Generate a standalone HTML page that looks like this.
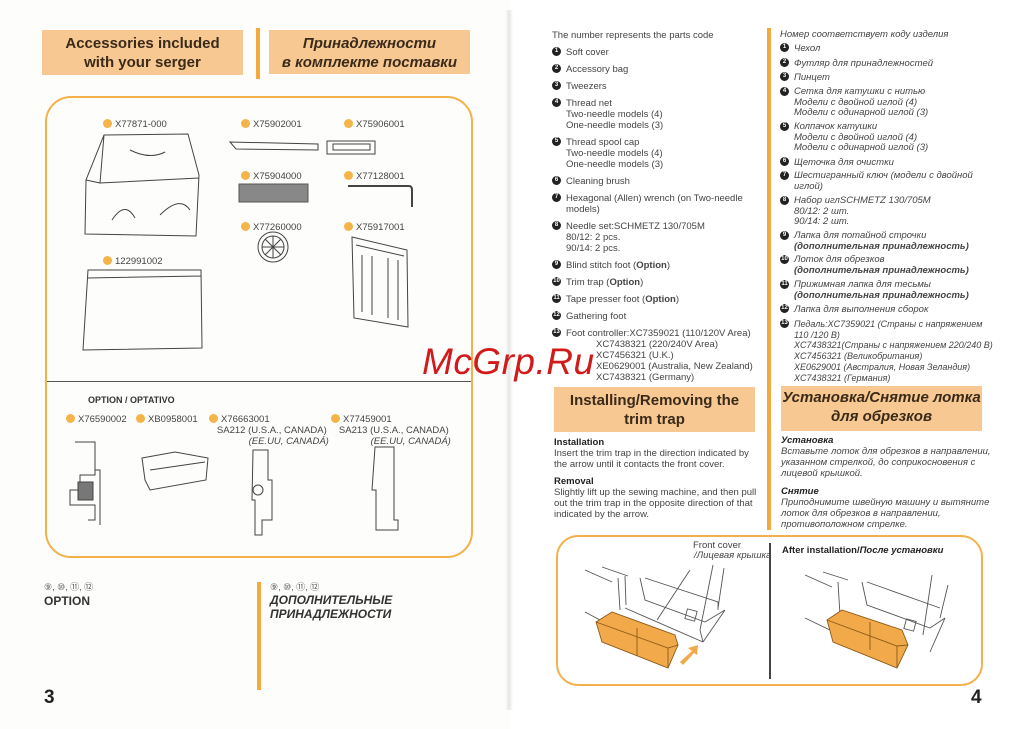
<!DOCTYPE html>
<html><head><meta charset="utf-8">
<style>
*{margin:0;padding:0;box-sizing:border-box}
body{width:1032px;height:729px;position:relative;background:#fff;font-family:"Liberation Sans",sans-serif;color:#333;overflow:hidden}
.a{position:absolute;white-space:nowrap}
.hb{position:absolute;background:#f7c892;text-align:center;font-weight:bold;color:#3a2a1a}
.t{position:absolute;font-size:9.5px;line-height:11px;white-space:nowrap;color:#444}
.ru{font-style:italic}
.b{position:absolute;width:9px;height:9px;border-radius:50%;background:#222;color:#fff;font-size:6px;line-height:9px;text-align:center;font-weight:bold}
.d{display:inline-block;width:9px;height:9px;border-radius:50%;background:#f5b44a;vertical-align:-1px;margin-right:3px}
.lab{position:absolute;font-size:9.5px;line-height:11px;color:#444;white-space:nowrap}
.vb{position:absolute;background:#f4a93c;width:4px}
</style></head><body>
<div class="a" style="left:0;top:0;width:510px;height:729px;background:#fdfdfc"></div>
<div class="a" style="left:505px;top:10px;width:8px;height:700px;background:linear-gradient(90deg,#fff,#e6e6e6,#fff)"></div>

<!-- LEFT PAGE -->
<div class="hb" style="left:42px;top:30px;width:201px;height:45px;font-size:15px;line-height:19px;padding-top:4px">Accessories included<br>with your serger</div>
<div class="vb" style="left:256px;top:28px;height:51px"></div>
<div class="hb" style="left:269px;top:30px;width:201px;height:44px;font-size:15px;line-height:19px;padding-top:4px;font-style:italic">Принадлежности<br>в комплекте поставки</div>

<div class="a" style="left:45px;top:96px;width:428px;height:462px;border:2.5px solid #f4b04a;border-radius:26px"></div>
<div class="a" style="left:47px;top:381px;width:424px;height:1px;background:#555"></div>

<div class="lab" style="left:103px;top:119px"><span class="d"></span>X77871-000</div>
<div class="lab" style="left:241px;top:119px"><span class="d"></span>X75902001</div>
<div class="lab" style="left:344px;top:119px"><span class="d"></span>X75906001</div>
<div class="lab" style="left:241px;top:171px"><span class="d"></span>X75904000</div>
<div class="lab" style="left:344px;top:171px"><span class="d"></span>X77128001</div>
<div class="lab" style="left:241px;top:222px"><span class="d"></span>X77260000</div>
<div class="lab" style="left:344px;top:222px"><span class="d"></span>X75917001</div>
<div class="lab" style="left:103px;top:256px"><span class="d"></span>122991002</div>

<svg class="a" style="left:0;top:0" width="510" height="729" fill="none" stroke="#444" stroke-width="1">
 <path d="M104 135 L188 134 L199 175 L196 236 L85 234 L86 180 Z M104 135 L100 183 L86 180 M100 183 L199 178"/>
 <path d="M112 220 Q125 200 135 218 M160 215 Q180 195 190 210 M130 150 Q150 160 165 152"/>
 <path d="M88 270 L201 270 L202 348 L83 350 Z M88 278 L201 276" />
 <path d="M230 142 L318 144 L318 150 L236 149 Z"/>
 <path d="M327 141 L375 141 L375 154 L327 154 Z M333 144 L370 144 L370 150 L333 150 Z"/>
 <rect x="239" y="184" width="69" height="18" fill="#888" stroke="#555"/>
 <path d="M348 186 L409 186 Q412 186 412 190 L412 207" stroke-width="2"/>
 <circle cx="273" cy="247" r="15"/><circle cx="273" cy="247" r="11"/>
 <path d="M262 247 H284 M273 236 V258 M265 239 L281 255 M281 239 L265 255"/>
 <path d="M352 237 L407 250 L408 327 L354 318 Z M356 245 L404 256 M362 255 L362 312 M372 256 L372 315 M388 258 L388 318 M398 260 L398 320"/>
 <path d="M75 442 H95 V475 H80 V490 H70 V505 H95 V520 H88 M95 442 V470 H100 V525"/>
 <rect x="78" y="482" width="15" height="18" fill="#777"/>
 <path d="M142 458 L175 452 L208 458 L206 480 L150 490 L145 480 Z M150 470 L205 462"/>
 <path d="M253 450 H268 V480 H272 V520 H262 V535 H255 V500 H252 Z"/><circle cx="258" cy="490" r="5"/>
 <path d="M375 447 H394 V520 H398 V530 H376 V490 H372 Z"/>
</svg>

<div class="a" style="left:88px;top:395px;font-size:9px;font-weight:bold;color:#333">OPTION / OPTATIVO</div>
<div class="lab" style="left:66px;top:414px"><span class="d"></span>X76590002</div>
<div class="lab" style="left:136px;top:414px"><span class="d"></span>XB0958001</div>
<div class="lab" style="left:209px;top:414px"><span class="d"></span>X76663001<br>&nbsp;&nbsp;&nbsp;SA212 (U.S.A., CANADA)<br><i>&nbsp;&nbsp;&nbsp;&nbsp;&nbsp;&nbsp;&nbsp;&nbsp;&nbsp;&nbsp;&nbsp;&nbsp;&nbsp;&nbsp;&nbsp;(EE.UU, CANADÁ)</i></div>
<div class="lab" style="left:331px;top:414px"><span class="d"></span>X77459001<br>&nbsp;&nbsp;&nbsp;SA213 (U.S.A., CANADA)<br><i>&nbsp;&nbsp;&nbsp;&nbsp;&nbsp;&nbsp;&nbsp;&nbsp;&nbsp;&nbsp;&nbsp;&nbsp;&nbsp;&nbsp;&nbsp;(EE.UU, CANADÁ)</i></div>

<div class="a" style="left:44px;top:580px;font-size:9px;color:#555">⑨, ⑩, ⑪, ⑫</div>
<div class="a" style="left:44px;top:594px;font-size:12px;font-weight:bold;color:#333">OPTION</div>
<div class="vb" style="left:257px;top:582px;height:108px"></div>
<div class="a" style="left:270px;top:580px;font-size:9px;color:#555">⑨, ⑩, ⑪, ⑫</div>
<div class="a" style="left:270px;top:593px;font-size:12px;line-height:14px;font-weight:bold;font-style:italic;color:#333">ДОПОЛНИТЕЛЬНЫЕ<br>ПРИНАДЛЕЖНОСТИ</div>
<div class="a" style="left:44px;top:687px;font-size:19px;font-weight:bold;color:#222">3</div>

<!-- RIGHT PAGE EN -->
<div class="t" style="left:552px;top:30px">The number represents the parts code</div>
<div class="b" style="left:552px;top:47px">1</div><div class="t" style="left:566px;top:47px">Soft cover</div>
<div class="b" style="left:552px;top:64px">2</div><div class="t" style="left:566px;top:64px">Accessory bag</div>
<div class="b" style="left:552px;top:81px">3</div><div class="t" style="left:566px;top:81px">Tweezers</div>
<div class="b" style="left:552px;top:98px">4</div><div class="t" style="left:566px;top:98px">Thread net<br>Two-needle models (4)<br>One-needle models (3)</div>
<div class="b" style="left:552px;top:137px">5</div><div class="t" style="left:566px;top:137px">Thread spool cap<br>Two-needle models (4)<br>One-needle models (3)</div>
<div class="b" style="left:552px;top:176px">6</div><div class="t" style="left:566px;top:176px">Cleaning brush</div>
<div class="b" style="left:552px;top:193px">7</div><div class="t" style="left:566px;top:193px">Hexagonal (Allen) wrench (on Two-needle<br>models)</div>
<div class="b" style="left:552px;top:221px">8</div><div class="t" style="left:566px;top:221px">Needle set:SCHMETZ 130/705M<br>80/12: 2 pcs.<br>90/14: 2 pcs.</div>
<div class="b" style="left:552px;top:260px">9</div><div class="t" style="left:566px;top:260px">Blind stitch foot (<b>Option</b>)</div>
<div class="b" style="left:552px;top:277px">10</div><div class="t" style="left:566px;top:277px">Trim trap (<b>Option</b>)</div>
<div class="b" style="left:552px;top:294px">11</div><div class="t" style="left:566px;top:294px">Tape presser foot (<b>Option</b>)</div>
<div class="b" style="left:552px;top:311px">12</div><div class="t" style="left:566px;top:311px">Gathering foot</div>
<div class="b" style="left:552px;top:328px">13</div><div class="t" style="left:566px;top:328px">Foot controller:XC7359021 (110/120V Area)</div>
<div class="t" style="left:596px;top:339px">XC7438321 (220/240V Area)<br>XC7456321 (U.K.)<br>XE0629001 (Australia, New Zealand)<br>XC7438321 (Germany)</div>

<!-- RU -->
<div class="vb" style="left:767px;top:28px;height:502px"></div>
<div class="t ru" style="left:780px;top:29px">Номер соответствует коду изделия</div>
<div class="b" style="left:780px;top:43px">1</div><div class="t ru" style="left:794px;top:43px">Чехол</div>
<div class="b" style="left:780px;top:58px">2</div><div class="t ru" style="left:794px;top:58px">Футляр для принадлежностей</div>
<div class="b" style="left:780px;top:72px">3</div><div class="t ru" style="left:794px;top:72px">Пинцет</div>
<div class="b" style="left:780px;top:87px">4</div><div class="t ru" style="left:794px;top:87px;line-height:10.5px">Сетка для катушки с нитью<br>Модели с двойной иглой (4)<br>Модели с одинарной иглой (3)</div>
<div class="b" style="left:780px;top:122px">5</div><div class="t ru" style="left:794px;top:122px;line-height:10.5px">Колпачок катушки<br>Модели с двойной иглой (4)<br>Модели с одинарной иглой (3)</div>
<div class="b" style="left:780px;top:157px">6</div><div class="t ru" style="left:794px;top:157px">Щеточка для очистки</div>
<div class="b" style="left:780px;top:171px">7</div><div class="t ru" style="left:794px;top:171px;line-height:10.5px">Шестигранный ключ (модели с двойной<br>иглой)</div>
<div class="b" style="left:780px;top:196px">8</div><div class="t ru" style="left:794px;top:196px;line-height:10.5px">Набор иглSCHMETZ 130/705M<br>80/12: 2 шт.<br>90/14: 2 шт.</div>
<div class="b" style="left:780px;top:231px">9</div><div class="t ru" style="left:794px;top:231px;line-height:10.5px">Лапка для потайной строчки<br><b>(дополнительная принадлежность)</b></div>
<div class="b" style="left:780px;top:255px">10</div><div class="t ru" style="left:794px;top:255px;line-height:10.5px">Лоток для обрезков<br><b>(дополнительная принадлежность)</b></div>
<div class="b" style="left:780px;top:280px">11</div><div class="t ru" style="left:794px;top:280px;line-height:10.5px">Прижимная лапка для тесьмы<br><b>(дополнительная принадлежность)</b></div>
<div class="b" style="left:780px;top:304px">12</div><div class="t ru" style="left:794px;top:304px">Лапка для выполнения сборок</div>
<div class="b" style="left:780px;top:319px">13</div><div class="t ru" style="left:794px;top:319px;line-height:10.7px;font-size:9px">Педаль:XC7359021 (Страны с напряжением<br>110 /120 В)<br>XC7438321(Страны с напряжением 220/240 В)<br>XC7456321 (Великобритания)<br>XE0629001 (Австралия, Новая Зеландия)<br>XC7438321 (Германия)</div>

<div class="hb" style="left:554px;top:387px;width:201px;height:45px;font-size:15px;line-height:19px;padding-top:4px">Installing/Removing the<br>trim trap</div>
<div class="hb" style="left:781px;top:386px;width:201px;height:45px;font-size:15px;line-height:19px;padding-top:2px;font-style:italic">Установка/Снятие лотка<br>для обрезков</div>

<div class="t" style="left:554px;top:437px"><b style="color:#222">Installation</b><br>Insert the trim trap in the direction indicated by<br>the arrow until it contacts the front cover.</div>
<div class="t" style="left:554px;top:476px"><b style="color:#222">Removal</b><br>Slightly lift up the sewing machine, and then pull<br>out the trim trap in the opposite direction of that<br>indicated by the arrow.</div>
<div class="t ru" style="left:781px;top:435px"><b style="color:#222">Установка</b><br>Вставьте лоток для обрезков в направлении,<br>указанном стрелкой, до соприкосновения с<br>лицевой крышкой.</div>
<div class="t ru" style="left:781px;top:486px"><b style="color:#222">Снятие</b><br>Приподнимите швейную машину и вытяните<br>лоток для обрезков в направлении,<br>противоположном стрелке.</div>

<div class="a" style="left:556px;top:535px;width:427px;height:151px;border:2.5px solid #f4b04a;border-radius:22px"></div>
<div class="a" style="left:769px;top:543px;width:1.5px;height:136px;background:#444"></div>
<div class="t" style="left:693px;top:540px">Front cover</div>
<div class="t ru" style="left:694px;top:550px">/Лицевая крышка</div>
<div class="t" style="left:782px;top:545px;font-weight:bold;color:#222">After installation/<i>После установки</i></div>

<svg class="a" style="left:540px;top:530px" width="480" height="160" fill="none" stroke="#555" stroke-width="0.9">
 <path d="M45 40 L72 52 M62 37 L88 46 M78 48 L80 80 M85 46 L86 75 M45 82 L60 90"/>
 <path d="M100 48 L105 70 L165 92 L185 80 M105 48 L178 72 L178 80 M163 112 L185 80 M85 78 L163 112 M163 112 L160 100"/>
 <path d="M173 35 L160 100 M184 38 L178 78 M150 40 L117 90"/>
 <rect x="146" y="80" width="10" height="10" transform="rotate(15 151 85)"/>
 <path d="M56 92 L72 82 L135 105 L138 115 L128 138 L62 112 Z" fill="#f2a94a" stroke="#8a5a1a"/>
 <path d="M56 92 L128 118 L138 115 M128 118 L128 138 M97 98 L97 126" stroke="#8a5a1a"/>
 <path d="M140 132 L152 121 L148 118 L158 115 L157 125 L154 123 L143 135 Z" fill="#f2a94a" stroke="none"/>
 <path d="M265 45 L292 57 M283 42 L308 50 M298 52 L300 85 M265 88 L290 100"/>
 <path d="M322 52 L327 75 L390 98 L405 88 M327 52 L400 78 M390 122 L405 88 M392 45 L383 105 M408 55 L400 88"/>
 <rect x="365" y="90" width="10" height="10" transform="rotate(15 370 95)"/>
 <path d="M287 90 L302 80 L362 100 L368 115 L357 138 L293 112 Z" fill="#f2a94a" stroke="#8a5a1a"/>
 <path d="M287 90 L357 116 L368 115 M357 116 L357 138 M330 92 L330 120" stroke="#8a5a1a"/>
</svg>

<div class="a" style="left:971px;top:687px;font-size:19px;font-weight:bold;color:#222">4</div>

<div class="a" style="left:422px;top:341px;font-size:37px;color:#d11a1a;font-style:italic;letter-spacing:0.5px">McGrp.Ru</div>
</body></html>
